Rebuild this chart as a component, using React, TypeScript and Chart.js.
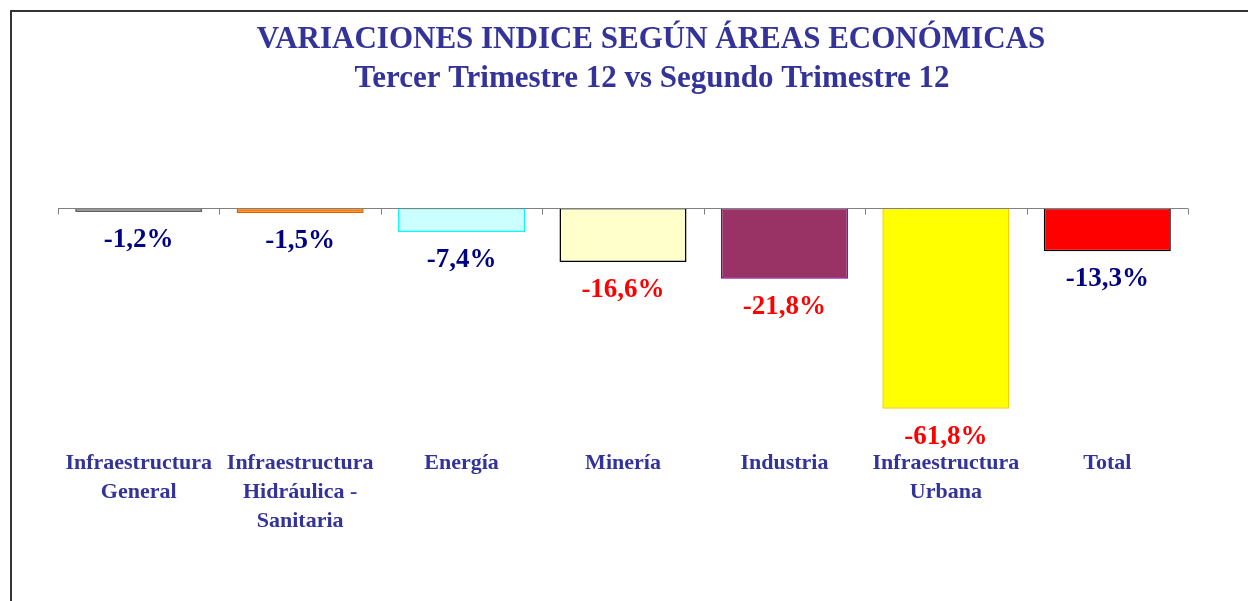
import React, { useEffect, useRef } from "react";
import { Chart, registerables } from "chart.js";

Chart.register(...registerables);

const titleLines = [
  "VARIACIONES INDICE SEGÚN ÁREAS ECONÓMICAS",
  "Tercer Trimestre 12 vs Segundo Trimestre 12",
];

const categories: string[][] = [
  ["Infraestructura", "General"],
  ["Infraestructura", "Hidráulica -", "Sanitaria"],
  ["Energía"],
  ["Minería"],
  ["Industria"],
  ["Infraestructura", "Urbana"],
  ["Total"],
];

const values = [-1.2, -1.5, -7.4, -16.6, -21.8, -61.8, -13.3];
const valueLabels = ["-1,2%", "-1,5%", "-7,4%", "-16,6%", "-21,8%", "-61,8%", "-13,3%"];

const fillColors = ["#808080", "#FF8000", "#CCFFFF", "#FFFFCC", "#993366", "#FFFF00", "#FF0000"];
const borderColors = ["#606060", "#E06000", "#00FFFF", "#000000", "#800080", "#FFCC00", "#000000"];
const labelColors = ["#000080", "#000080", "#000080", "#FF0000", "#FF0000", "#FF0000", "#000080"];

const SERIF = "'Liberation Serif', 'Times New Roman', serif";

const framePlugin = {
  id: "frame",
  afterDraw(chart: any) {
    const ctx = chart.ctx;
    ctx.save();
    ctx.strokeStyle = "#333333";
    ctx.lineWidth = 2;
    ctx.strokeRect(11, 11, 1400, 800);
    // title
    ctx.fillStyle = "#333399";
    ctx.font = `bold 31px ${SERIF}`;
    ctx.textAlign = "center";
    ctx.textBaseline = "middle";
    ctx.fillText(titleLines[0], 651, 40);
    ctx.fillText(titleLines[1], 652, 79);
    ctx.restore();
  },
};

const axisPlugin = {
  id: "zeroAxis",
  afterDatasetsDraw(chart: any) {
    const ctx = chart.ctx;
    const x = chart.scales.x;
    const y = chart.scales.y;
    const y0 = Math.round(y.getPixelForValue(0)) + 0.5;
    const { left, right } = chart.chartArea;
    ctx.save();
    ctx.strokeStyle = "#808080";
    ctx.lineWidth = 1;
    ctx.beginPath();
    ctx.moveTo(left, y0);
    ctx.lineTo(right, y0);
    const n = categories.length;
    const bounds: number[] = [left];
    for (let i = 0; i < n - 1; i++) {
      bounds.push((x.getPixelForTick(i) + x.getPixelForTick(i + 1)) / 2);
    }
    bounds.push(right);
    bounds.forEach((b) => {
      const bx = Math.round(b) + 0.5;
      ctx.moveTo(bx, y0);
      ctx.lineTo(bx, y0 + 6);
    });
    ctx.stroke();

    // value labels
    const meta = chart.getDatasetMeta(0);
    ctx.font = `bold 27px ${SERIF}`;
    ctx.textAlign = "center";
    ctx.textBaseline = "middle";
    meta.data.forEach((el: any, i: number) => {
      ctx.fillStyle = labelColors[i];
      ctx.fillText(valueLabels[i], el.x, el.y + 28);
    });
    ctx.restore();
  },
};

export default function App() {
  const ref = useRef<HTMLCanvasElement>(null);
  useEffect(() => {
    if (!ref.current) return;
    const chart = new Chart(ref.current, {
      type: "bar",
      data: {
        labels: categories,
        datasets: [
          {
            data: values,
            backgroundColor: fillColors,
            borderColor: borderColors,
            borderWidth: 1.5,
            borderSkipped: false,
            barPercentage: 0.787,
            categoryPercentage: 1,
          },
        ],
      },
      options: {
        responsive: false,
        animation: false,
        devicePixelRatio: 1,
        layout: { padding: { left: 58, right: 114, top: 208, bottom: 58 } },
        plugins: {
          legend: { display: false },
          tooltip: { enabled: false },
          title: { display: false },
        },
        scales: {
          x: {
            position: "bottom",
            grid: { display: false, drawTicks: false },
            border: { display: false },
            ticks: {
              color: "#333399",
              font: { family: SERIF, size: 22, weight: "bold", lineHeight: 1.318 },
              padding: 7,
              maxRotation: 0,
              autoSkip: false,
            },
          },
          y: {
            display: false,
            min: -72,
            max: 0,
          },
        },
      },
      plugins: [axisPlugin, framePlugin],
    });
    return () => chart.destroy();
  }, []);
  return (
    <div
      style={{
        position: "fixed",
        left: 0,
        top: 0,
        width: 1248,
        height: 601,
        overflow: "hidden",
        background: "#ffffff",
      }}
    >
      <canvas ref={ref} width={1302} height={601} style={{ display: "block" }} />
    </div>
  );
}
